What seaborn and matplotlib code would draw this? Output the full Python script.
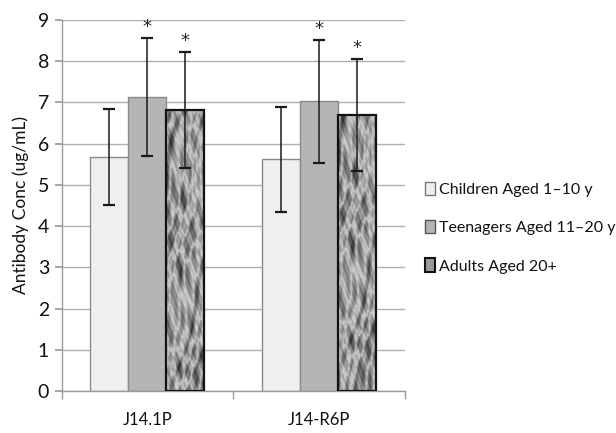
import numpy as np
import pandas as pd
import matplotlib
matplotlib.use('Agg')
import matplotlib.pyplot as plt
import matplotlib.patches as mpatches
import seaborn as sns

#### data
antigens = ['J14.1P', 'J14-R6P']
groups = ['Children Aged 1\u201310 y', 'Teenagers Aged 11\u201320 y', 'Adults Aged 20+']
means = {
    groups[0]: [5.67, 5.62],
    groups[1]: [7.13, 7.03],
    groups[2]: [6.82, 6.70],
}
errs = {
    groups[0]: [1.17, 1.27],
    groups[1]: [1.44, 1.49],
    groups[2]: [1.41, 1.36],
}
signif = {groups[0]: [False, False], groups[1]: [True, True], groups[2]: [True, True]}

rows = []
for g in groups:
    for i, a in enumerate(antigens):
        rows.append({'antigen': a, 'group': g, 'conc': means[g][i], 'err': errs[g][i], 'sig': signif[g][i]})
df = pd.DataFrame(rows)

sns.set_theme(style='white')
plt.rcParams['font.family'] = ['Lato', 'DejaVu Sans']

fig = plt.figure(figsize=(6.16, 4.33), dpi=100)
ax = fig.add_axes([0.1, 0.097, 0.557, 0.857])

face = {groups[0]: '#efefef', groups[1]: '#b5b5b5', groups[2]: '#8f8f8f'}
sns.barplot(data=df, x='antigen', y='conc', hue='group', hue_order=groups, order=antigens,
            palette=face, errorbar=None, width=0.665, gap=0, ax=ax, legend=False, zorder=2)

#### crumpled-paper look for the adult bars (deterministic texture, not data)
yy, xx = np.mgrid[0:240, 0:48].astype(float)
warp = 3 * np.sin(yy * 0.07) + 2 * np.sin(xx * 0.13 + yy * 0.05)
tex = (0.9 * np.sin((xx + warp) * 0.23 + yy * 0.11)
       + 0.6 * np.sin(xx * 0.41 - (yy + warp) * 0.19 + 1.3)
       + 0.5 * np.sin(yy * 0.09 + np.sin(xx * 0.17) * 2.5)
       + 0.35 * np.cos(xx * 0.7 + yy * 0.31 + warp)
       + 0.25 * np.sin(xx * 1.3 - yy * 0.9))
tex = (tex - tex.min()) / (tex.max() - tex.min())
tex = 1 - np.abs(tex - 0.55) ** 0.8   # crease-like dark streaks

for k, g in enumerate(groups):
    sub = df[df['group'] == g].reset_index(drop=True)
    for i, bar in enumerate(ax.containers[k]):
        if k == 2:
            bar.set_edgecolor('#111111')
            bar.set_linewidth(1.6)
            x0, w, h = bar.get_x(), bar.get_width(), bar.get_height()
            im = ax.imshow(tex[i * 20:i * 20 + 200], cmap='gray', vmin=0.25, vmax=1.15, aspect='auto',
                           extent=[x0, x0 + w, 0, h], zorder=2.5, interpolation='bilinear')
            im.set_clip_path(bar)
            bar.set_zorder(3)
            bar.set_facecolor('none')
        else:
            bar.set_edgecolor('#8a8a8a')
            bar.set_linewidth(1.0)
        cx = bar.get_x() + bar.get_width() / 2
        ax.errorbar(cx, sub.loc[i, 'conc'], yerr=sub.loc[i, 'err'], fmt='none',
                    ecolor='#1a1a1a', elinewidth=1.1, capsize=4, capthick=1.6, zorder=4)
        if sub.loc[i, 'sig']:
            ax.text(cx, sub.loc[i, 'conc'] + sub.loc[i, 'err'] + 0.04, '*', ha='center',
                    va='bottom', fontsize=13, color='#222222', zorder=5, family='DejaVu Sans')

ax.set_xlim(-0.5, 1.5)
ax.set_ylim(0, 9)
ax.set_yticks(range(0, 10))
ax.yaxis.grid(True, color='#b0b0b0', linewidth=1.0)
ax.set_axisbelow(True)
for s in ['top', 'right']:
    ax.spines[s].set_visible(False)
for s in ['left', 'bottom']:
    ax.spines[s].set_color('#9a9a9a')
    ax.spines[s].set_linewidth(1.0)

ax.tick_params(axis='y', left=True, length=5, color='#9a9a9a', labelsize=14, labelcolor='#111111', pad=4)
ax.set_xticks([0, 1])
ax.set_xticklabels(antigens, fontsize=12, color='#111111')
ax.tick_params(axis='x', bottom=False, pad=9)
ax.set_xticks([-0.5, 0.5, 1.5], minor=True)
ax.tick_params(axis='x', which='minor', bottom=True, length=6, color='#9a9a9a')
ax.set_xlabel('')
ax.set_ylabel('Antibody Conc (ug/mL)', fontsize=12.5, color='#111111', labelpad=6)

handles = [mpatches.Patch(facecolor=face[groups[0]], edgecolor='#777777', label=groups[0]),
           mpatches.Patch(facecolor=face[groups[1]], edgecolor='#555555', label=groups[1]),
           mpatches.Patch(facecolor='#9a9a9a', edgecolor='#111111', linewidth=1.5, label=groups[2])]
fig.legend(handles=handles, loc='upper left', bbox_to_anchor=(0.69, 0.58), frameon=False,
           fontsize=11.5, handlelength=0.6, handleheight=0.9, handletextpad=0.3,
           labelspacing=1.45, labelcolor='#111111', borderaxespad=0, borderpad=0)

fig.savefig('out.png', dpi=100)
